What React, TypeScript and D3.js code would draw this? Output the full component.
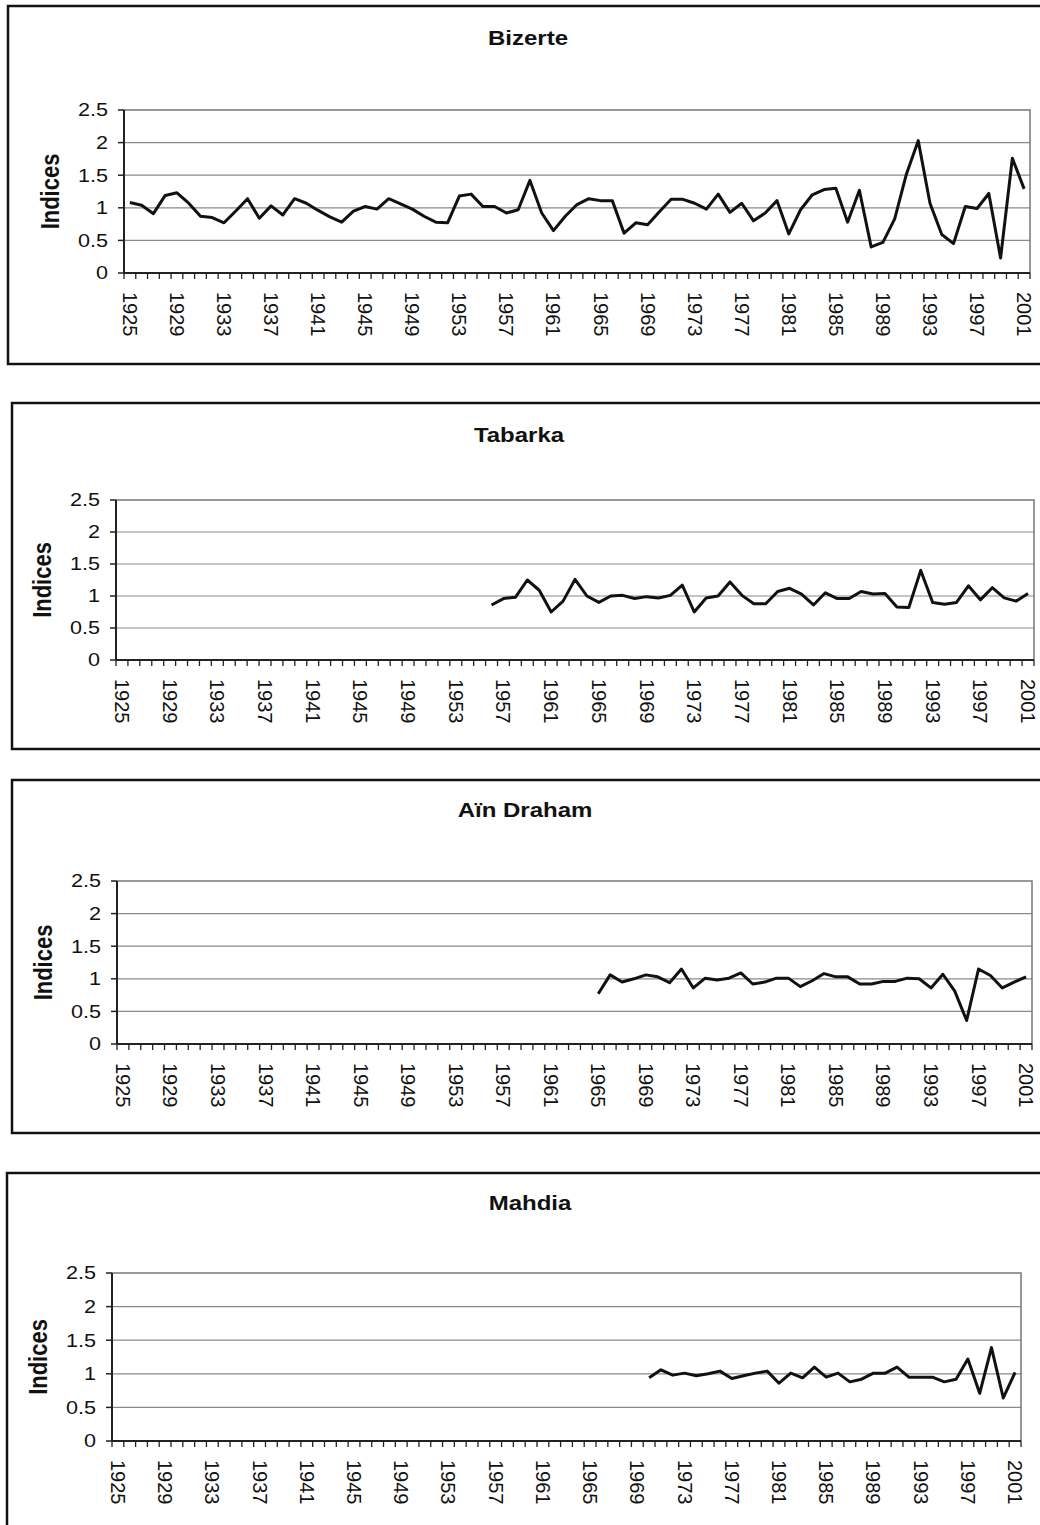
import React from 'react';
import * as d3 from 'd3';

// categories
const years = d3.range(1925, 2002);
const labelYears = years.filter((y) => (y - 1925) % 4 === 0);
const yTicks = [0, 0.5, 1, 1.5, 2, 2.5];

// series (start year + yearly indices)
const bizerteStart = 1925;
const bizerte = [
  1.08, 1.04, 0.91, 1.19, 1.23, 1.07, 0.87, 0.85, 0.77, 0.95,
  1.14, 0.84, 1.03, 0.89, 1.14, 1.07, 0.96, 0.86, 0.78, 0.95,
  1.02, 0.98, 1.14, 1.06, 0.98, 0.87, 0.78, 0.77, 1.18, 1.21,
  1.02, 1.02, 0.92, 0.97, 1.42, 0.92, 0.65, 0.87, 1.05, 1.14,
  1.11, 1.11, 0.61, 0.77, 0.74, 0.94, 1.13, 1.13, 1.07, 0.98,
  1.21, 0.93, 1.07, 0.8, 0.92, 1.11, 0.6, 0.97, 1.2, 1.28,
  1.3, 0.78, 1.27, 0.4, 0.47, 0.83, 1.52, 2.03, 1.07, 0.59,
  0.45, 1.02, 0.99, 1.22, 0.23, 1.76, 1.29,
];

const tabarkaStart = 1956;
const tabarka = [
  0.86, 0.96, 0.98, 1.25, 1.09, 0.75, 0.92, 1.26, 1.0, 0.9,
  1.0, 1.01, 0.96, 0.99, 0.97, 1.01, 1.17, 0.75, 0.97, 1.0,
  1.22, 1.01, 0.88, 0.88, 1.07, 1.12, 1.03, 0.86, 1.05, 0.96,
  0.96, 1.07, 1.03, 1.04, 0.83, 0.82, 1.4, 0.9, 0.87, 0.9,
  1.16, 0.94, 1.13, 0.97, 0.92, 1.04,
];

const ainDrahamStart = 1965;
const ainDraham = [
  0.77, 1.06, 0.95, 1.0, 1.06, 1.03, 0.94, 1.15, 0.86, 1.01,
  0.98, 1.01, 1.09, 0.92, 0.95, 1.01, 1.01, 0.88, 0.97, 1.08,
  1.03, 1.03, 0.92, 0.92, 0.96, 0.96, 1.01, 1.0, 0.86, 1.07,
  0.81, 0.36, 1.15, 1.05, 0.86, 0.95, 1.03,
];

const mahdiaStart = 1970;
const mahdia = [
  0.94, 1.06, 0.98, 1.01, 0.97, 1.0, 1.04, 0.93, 0.97, 1.01,
  1.04, 0.86, 1.01, 0.94, 1.1, 0.95, 1.01, 0.88, 0.92, 1.01,
  1.01, 1.1, 0.95, 0.95, 0.95, 0.88, 0.92, 1.22, 0.71, 1.39,
  0.64, 1.02,
];

const stations = [
  { name: 'Bizerte', start: bizerteStart, values: bizerte },
  { name: 'Tabarka', start: tabarkaStart, values: tabarka },
  { name: 'Aïn Draham', start: ainDrahamStart, values: ainDraham },
  { name: 'Mahdia', start: mahdiaStart, values: mahdia },
];

// panel layout (box, title, plot area)
const layouts = [
  { box: [8, 6, 1050, 364], title: [528, 38], plot: [124, 110, 1030, 273] },
  { box: [12, 403, 1050, 749], title: [519, 435], plot: [116, 500, 1034, 660] },
  { box: [12, 780, 1050, 1133], title: [525, 810], plot: [117, 881, 1032, 1044] },
  { box: [7, 1173, 1050, 1560], title: [530, 1203], plot: [112, 1273, 1021, 1441] },
];

const FONT = 'Liberation Sans, Arial, sans-serif';
const SX = 1.2; // the scanned text is a bit wider than plain Arial

function Panel({ station, layout }) {
  const [bx0, by0, bx1, by1] = layout.box;
  const [left, top, right, bottom] = layout.plot;

  const x = d3.scaleBand().domain(years).range([left, right]).padding(0);
  const y = d3.scaleLinear().domain([0, 2.5]).range([bottom, top]);
  const cx = (yr) => x(yr) + x.bandwidth() / 2;

  const points = station.values.map((v, i) => ({ year: station.start + i, value: v }));
  const line = d3
    .line()
    .x((d) => cx(d.year))
    .y((d) => y(d.value));

  const tickXs = years.map((yr) => x(yr)).concat([right]);

  return (
    <g>
      <rect x={bx0} y={by0} width={bx1 - bx0} height={by1 - by0} fill="#fff" stroke="#111" strokeWidth={2.5} />
      <text
        transform={`translate(${layout.title[0]},${layout.title[1]}) scale(${SX},1)`}
        textAnchor="middle"
        dominantBaseline="central"
        fontFamily={FONT}
        fontWeight="bold"
        fontSize={20}
        fill="#111"
      >
        {station.name}
      </text>

      {/* gridlines */}
      {yTicks.slice(1, -1).map((t) => (
        <line key={t} x1={left} x2={right} y1={y(t)} y2={y(t)} stroke="#8a8a8a" strokeWidth={1.2} />
      ))}
      {/* plot border (top/right) */}
      <path d={`M${left},${top}H${right}V${bottom}`} fill="none" stroke="#777" strokeWidth={1.5} />

      {/* y axis */}
      <line x1={left} x2={left} y1={top} y2={bottom} stroke="#222" strokeWidth={2} />
      {yTicks.map((t) => (
        <g key={t}>
          <line x1={left - 6} x2={left} y1={y(t)} y2={y(t)} stroke="#222" strokeWidth={1.5} />
          <text
            transform={`translate(${left - 16},${y(t)}) scale(${SX},1)`}
            textAnchor="end"
            dominantBaseline="central"
            fontFamily={FONT}
            fontSize={18}
            fill="#111"
          >
            {t}
          </text>
        </g>
      ))}
      <text
        transform={`translate(${left - 74},${(top + bottom) / 2}) scale(${SX},1) rotate(-90)`}
        textAnchor="middle"
        dominantBaseline="central"
        fontFamily={FONT}
        fontWeight="bold"
        fontSize={22}
        fill="#111"
      >
        Indices
      </text>

      {/* x axis */}
      <line x1={left} x2={right} y1={bottom} y2={bottom} stroke="#222" strokeWidth={2} />
      {tickXs.map((tx, i) => (
        <line key={i} x1={tx} x2={tx} y1={bottom} y2={bottom + 6} stroke="#222" strokeWidth={1.3} />
      ))}
      {labelYears.map((yr) => (
        <text
          key={yr}
          transform={`translate(${cx(yr)},${bottom + 19}) rotate(90)`}
          textAnchor="start"
          dominantBaseline="central"
          fontFamily={FONT}
          fontSize={20}
          fill="#111"
        >
          {yr}
        </text>
      ))}

      {/* series */}
      <path d={line(points)} fill="none" stroke="#111" strokeWidth={3} strokeLinejoin="round" />
    </g>
  );
}

export default function App() {
  return (
    <svg
      width={1040}
      height={1525}
      style={{ position: 'absolute', left: 0, top: 0, background: '#fff' }}
    >
      <rect x={0} y={0} width={1040} height={1525} fill="#fff" />
      {stations.map((s, i) => (
        <Panel key={s.name} station={s} layout={layouts[i]} />
      ))}
    </svg>
  );
}
